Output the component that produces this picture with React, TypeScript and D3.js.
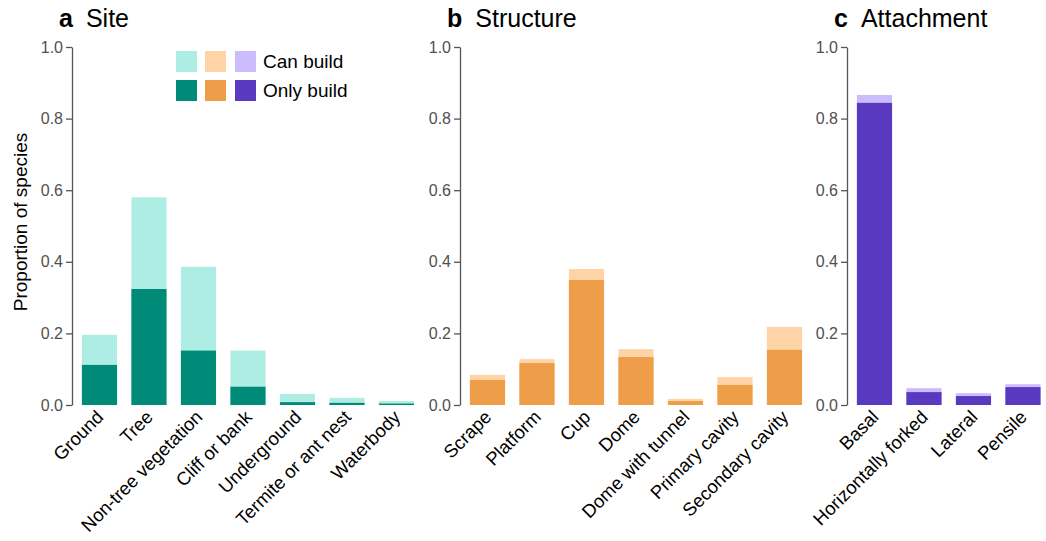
import React, { useEffect, useRef } from 'react';
import * as d3 from 'd3';

// values (proportion of species)
const siteCats = ['Ground', 'Tree', 'Non-tree vegetation', 'Cliff or bank', 'Underground', 'Termite or ant nest', 'Waterbody'];
const siteCan = [0.196, 0.58, 0.386, 0.152, 0.031, 0.02, 0.011];
const siteOnly = [0.112, 0.324, 0.152, 0.051, 0.008, 0.006, 0.004];

const structCats = ['Scrape', 'Platform', 'Cup', 'Dome', 'Dome with tunnel', 'Primary cavity', 'Secondary cavity'];
const structCan = [0.084, 0.128, 0.38, 0.156, 0.017, 0.078, 0.218];
const structOnly = [0.07, 0.117, 0.349, 0.134, 0.011, 0.056, 0.154];

const attachCats = ['Basal', 'Horizontally forked', 'Lateral', 'Pensile'];
const attachCan = [0.866, 0.047, 0.033, 0.058];
const attachOnly = [0.844, 0.036, 0.025, 0.05];

const yTicks = [0, 0.2, 0.4, 0.6, 0.8, 1.0];
const legendLabels = ['Can build', 'Only build'];

const panels = [
  { letter: 'a', title: 'Site', cats: siteCats, can: siteCan, only: siteOnly, light: '#aeede4', dark: '#008a78', x0: 72 },
  { letter: 'b', title: 'Structure', cats: structCats, can: structCan, only: structOnly, light: '#fed4a6', dark: '#ee9e48', x0: 460 },
  { letter: 'c', title: 'Attachment', cats: attachCats, can: attachCan, only: attachOnly, light: '#cbbdfb', dark: '#5939c0', x0: 847 },
];

const App = () => {
  const svgRef = useRef<SVGSVGElement>(null);

  useEffect(() => {
    const svg = d3.select(svgRef.current);
    svg.selectAll('*').remove();

    const y = d3.scaleLinear().domain([0, 1]).range([405, 47]);
    const labelFont = 'Liberation Sans, Arial, sans-serif';

    panels.forEach((p) => {
      const x = d3
        .scaleBand<string>()
        .domain(p.cats)
        .range([p.x0, p.x0 + (p.cats.length - 0.29 + 0.4) * 49.5])
        .paddingInner(0.29)
        .paddingOuter(0.2);

      const g = svg.append('g');

      // title
      const t = g.append('text')
        .attr('x', p.x0 - 13)
        .attr('y', 27)
        .attr('font-family', labelFont)
        .attr('font-size', 25);
      t.append('tspan').attr('font-weight', 'bold').text(p.letter);
      t.append('tspan').attr('dx', 13).text(p.title);

      // y axis
      const yAxis = d3.axisLeft(y).tickValues(yTicks).tickFormat(d3.format('.1f')).tickSize(6).tickSizeOuter(0);
      const ya = g.append('g').attr('transform', `translate(${p.x0},0)`).call(yAxis);
      ya.select('.domain').attr('stroke', '#555').attr('stroke-width', 1.3);
      ya.selectAll('.tick line').attr('stroke', '#555').attr('stroke-width', 1.3);
      ya.selectAll('.tick text')
        .attr('fill', '#505050')
        .attr('font-size', 16)
        .attr('font-family', labelFont)
        .attr('x', -9);

      // bars
      g.selectAll('rect.can')
        .data(p.cats)
        .enter()
        .append('rect')
        .attr('class', 'can')
        .attr('x', (d) => x(d) as number)
        .attr('width', x.bandwidth())
        .attr('y', (_, i) => y(p.can[i]))
        .attr('height', (_, i) => y(0) - y(p.can[i]))
        .attr('fill', p.light);

      g.selectAll('rect.only')
        .data(p.cats)
        .enter()
        .append('rect')
        .attr('class', 'only')
        .attr('x', (d) => x(d) as number)
        .attr('width', x.bandwidth())
        .attr('y', (_, i) => y(p.only[i]))
        .attr('height', (_, i) => y(0) - y(p.only[i]))
        .attr('fill', p.dark);

      // x labels
      g.selectAll('text.xl')
        .data(p.cats)
        .enter()
        .append('text')
        .attr('class', 'xl')
        .attr('transform', (d) => `translate(${(x(d) as number) + x.bandwidth() / 2 - 4},${y(0) + 4}) rotate(-45)`)
        .attr('text-anchor', 'end')
        .attr('dy', '0.7em')
        .attr('font-family', labelFont)
        .attr('font-size', 18.5)
        .attr('fill', '#000')
        .text((d) => d);
    });

    // y label
    svg.append('text')
      .attr('transform', 'translate(27,222) rotate(-90)')
      .attr('text-anchor', 'middle')
      .attr('font-family', labelFont)
      .attr('font-size', 19)
      .text('Proportion of species');

    // legend
    const legend = svg.append('g');
    const sw = 21;
    const cols = [176, 205, 235];
    const rows = [51, 80];
    rows.forEach((ry, r) => {
      panels.forEach((p, c) => {
        legend.append('rect')
          .attr('x', cols[c])
          .attr('y', ry)
          .attr('width', sw)
          .attr('height', sw)
          .attr('fill', r === 0 ? p.light : p.dark);
      });
      legend.append('text')
        .attr('x', 263)
        .attr('y', ry + sw / 2)
        .attr('dy', '0.35em')
        .attr('font-family', labelFont)
        .attr('font-size', 19)
        .text(legendLabels[r]);
    });
  }, []);

  return (
    <svg
      ref={svgRef}
      width={1046}
      height={541}
      style={{ position: 'absolute', left: 0, top: 0, background: '#fff' }}
    />
  );
};

export default App;
